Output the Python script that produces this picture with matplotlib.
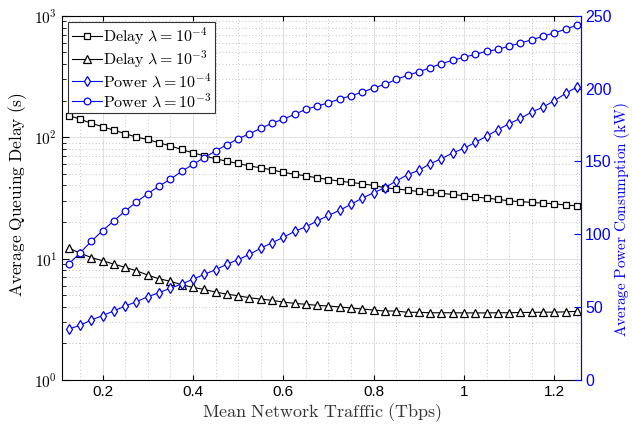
import numpy as np
import matplotlib
matplotlib.use("Agg")
import matplotlib.pyplot as plt
import matplotlib.ticker as mticker

plt.rcParams["mathtext.fontset"] = "cm"
plt.rcParams["font.family"] = ["Liberation Sans", "DejaVu Sans"]

# Mean network traffic (Tbps), 0.125 .. 1.25 in 0.025 steps
traffic = [0.125 + 0.025 * i for i in range(46)]

delay_l4 = [150.8, 141, 130, 122, 114, 107, 100, 95.7, 89.8, 84.8,
            79.2, 74.3, 70.2, 66.3, 63.4, 60.7, 58.0, 55.9, 53.8, 51.2,
            49.6, 48.0, 46.2, 44.8, 43.4, 42.4, 41.3, 40.0, 38.3, 37.5,
            36.6, 35.7, 35.1, 34.4, 33.8, 32.9, 32.1, 31.5, 30.7, 29.9,
            29.4, 29.0, 28.6, 28.3, 27.6, 27.2]
delay_l3 = [12.2, 11.1, 10.2, 9.6, 9.0, 8.46, 7.94, 7.31, 6.82, 6.5,
            6.09, 5.79, 5.57, 5.30, 5.10, 4.94, 4.76, 4.64, 4.53, 4.38,
            4.28, 4.20, 4.12, 4.07, 3.99, 3.92, 3.84, 3.77, 3.70, 3.70,
            3.61, 3.61, 3.58, 3.58, 3.58, 3.57, 3.57, 3.57, 3.58, 3.58,
            3.60, 3.60, 3.62, 3.62, 3.64, 3.68]
power_l4 = [35.0, 37.5, 41.2, 44.2, 47.4, 50.8, 53.7, 57.2, 59.9, 63.0,
            65.9, 69.1, 72.5, 75.7, 79.4, 82.6, 86.2, 90.4, 94.2, 97.9,
            102.0, 105.2, 109.1, 113.0, 116.5, 120.6, 124.9, 128.5, 132.0, 136.6,
            140.9, 143.9, 148.4, 151.9, 155.8, 159.0, 163.1, 167.3, 171.8, 175.9,
            179.6, 183.9, 187.3, 191.7, 196.7, 201.1]
power_l3 = [79.6, 87.2, 95.2, 102.5, 109.3, 116.0, 122.2, 127.9, 133.1, 137.8,
            143.2, 148.0, 152.6, 157.2, 161.5, 165.6, 169.0, 172.7, 176.2, 179.1,
            182.3, 185.8, 188.0, 190.3, 192.8, 195.1, 197.6, 200.4, 202.9, 206.3,
            209.1, 211.6, 214.3, 217.1, 219.4, 221.5, 223.5, 225.6, 226.9, 229.2,
            231.3, 233.5, 235.9, 238.3, 240.7, 243.6]

x_ticks = [0.2, 0.4, 0.6, 0.8, 1.0, 1.2]
x_ticklabels = ["0.2", "0.4", "0.6", "0.8", "1", "1.2"]
power_ticks = [0, 50, 100, 150, 200, 250]

BLUE = "#0000ff"

fig = plt.figure(figsize=(6.32, 4.26), dpi=100)
ax = fig.add_axes([0.098, 0.108, 0.822, 0.855])
ax2 = ax.twinx()

lw = 0.8
mew = 0.9
h1, = ax.plot(traffic, delay_l4, color="black", marker="s", mfc="white", ms=4.3, mew=mew,
              lw=lw, label=r"$\mathrm{Delay}\ \lambda = 10^{-4}$")
h2, = ax.plot(traffic, delay_l3, color="black", marker="^", mfc="white", ms=5.2, mew=mew,
              lw=lw, label=r"$\mathrm{Delay}\ \lambda = 10^{-3}$")
h3, = ax2.plot(traffic, power_l4, color=BLUE, marker="d", mfc="white", ms=5.2, mew=mew,
               lw=lw, label=r"$\mathrm{Power}\ \lambda = 10^{-4}$")
h4, = ax2.plot(traffic, power_l3, color=BLUE, marker="o", mfc="white", ms=4.8, mew=mew,
               lw=lw, label=r"$\mathrm{Power}\ \lambda = 10^{-3}$")

ax.set_yscale("log")
ax.set_ylim(1, 1000)
ax.set_xlim(0.11, 1.26)
ax.set_xticks(x_ticks)
ax.set_xticklabels(x_ticklabels)
ax.yaxis.set_major_formatter(mticker.FuncFormatter(
    lambda v, _: r"$\mathsf{10^{%d}}$" % round(np.log10(v))))
ax.xaxis.set_minor_locator(mticker.MultipleLocator(0.05))

ax2.set_ylim(0, 250)
ax2.set_yticks(power_ticks)

ax.grid(True, which="major", color="#e0e0e0", lw=0.7, ls="-")
ax.grid(True, which="minor", color="#b0b0b0", lw=0.6, ls=(0, (1, 3)))
ax.set_axisbelow(True)

ax.tick_params(axis="both", which="both", direction="in", labelsize=11, top=True)
ax.tick_params(axis="x", which="minor", length=0)
ax.tick_params(axis="y", which="major", length=5)
ax.tick_params(axis="y", which="minor", length=3)
ax2.tick_params(axis="y", direction="in", colors=BLUE, labelsize=11.5, length=5, pad=2.5)
ax2.spines["right"].set_color(BLUE)
for sp in ["left", "top", "bottom"]:
    ax2.spines[sp].set_visible(False)

ax.set_xlabel(r"$\mathrm{Mean\ Network\ Trafffic\ (Tbps)}$", fontsize=13, labelpad=2,
              color="#333333")
ax.set_ylabel(r"$\mathrm{Average\ Queuing\ Delay\ (s)}$", fontsize=12.5)
ax.yaxis.set_label_coords(-0.064, 0.51)
ax2.set_ylabel(r"$\mathrm{Average\ Power\ Consumption\ (kW)}$", fontsize=11, color=BLUE)
ax2.yaxis.set_label_coords(1.058, 0.44)

leg = ax.legend(handles=[h1, h2, h3, h4], loc="upper left", fontsize=11.5, fancybox=False,
                framealpha=1, edgecolor="#333333", handlelength=1.9, handletextpad=0.1,
                borderpad=0.2, labelspacing=0.12, borderaxespad=0.4)
leg.get_frame().set_linewidth(0.8)

fig.savefig("out.png", dpi=100)
